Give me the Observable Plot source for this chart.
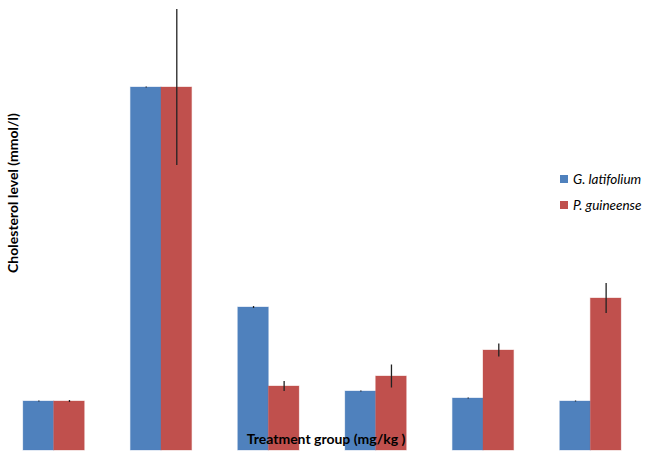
<!DOCTYPE html>
<html>
<head>
<meta charset="utf-8">
<script src="https://cdn.jsdelivr.net/npm/d3@7"></script>
<script src="https://cdn.jsdelivr.net/npm/@observablehq/plot@0.6"></script>
<style>
  html, body { margin: 0; padding: 0; background: #fff; }
  #wrap { position: relative; width: 650px; height: 457px; font-family: Lato, "Open Sans", sans-serif; }
  #ylab { position: absolute; left: 12px; top: 193px; transform: translate(-50%, -50%) rotate(-90deg); white-space: nowrap; font-weight: bold; font-size: 14px; color: #000; }
  #xlab { position: absolute; left: 326px; top: 438px; transform: translate(-50%, -50%); white-space: nowrap; font-weight: bold; font-size: 14px; color: #000; }
  #legend { position: absolute; left: 560px; top: 172px; font-size: 13.5px; font-style: italic; }
  #legend div { display: flex; align-items: center; height: 14px; margin-bottom: 12px; }
  #legend span.sw { display: inline-block; width: 8px; height: 8px; margin-right: 5px; }
</style>
</head>
<body>
<div id="wrap"></div>
<script>
const groups = ["Control", "Diabetic", "G1", "G2", "G3", "G4"];
const series = ["G. latifolium", "P. guineense"];
const colors = ["#4F81BD", "#C0504D"];
const latifolium = [0.49, 3.63, 1.43, 0.59, 0.52, 0.49];
const latifoliumErr = [0.005, 0.005, 0.01, 0.005, 0.005, 0.005];
const guineense = [0.49, 3.63, 0.64, 0.74, 1.00, 1.52];
const guineenseErr = [0.01, 0.78, 0.05, 0.115, 0.065, 0.15];
const xLabel = "Treatment group (mg/kg )";
const yLabel = "Cholesterol level (mmol/l)";

const data = [];
groups.forEach((g, i) => {
  data.push({group: g, series: series[0], value: latifolium[i], err: latifoliumErr[i]});
  data.push({group: g, series: series[1], value: guineense[i], err: guineenseErr[i]});
});

const chart = Plot.plot({
  width: 650,
  height: 457,
  marginLeft: 0,
  marginRight: 6,
  marginTop: 0,
  marginBottom: 7,
  fx: {domain: groups, paddingInner: 0.43, paddingOuter: 0.215, round: false, axis: null, label: null},
  x: {domain: series, padding: 0, round: false, axis: null},
  y: {domain: [0, 4.5], axis: null},
  color: {domain: series, range: colors},
  marks: [
    Plot.barY(data, {fx: "group", x: "series", y: "value", fill: "series", stroke: "series", strokeOpacity: 0.35, strokeWidth: 1}),
    Plot.ruleX(data, {fx: "group", x: "series", y1: d => d.value - d.err, y2: d => d.value + d.err, stroke: "#222", strokeWidth: 1.3})
  ]
});

const wrap = document.getElementById("wrap");
wrap.appendChild(chart);

const yl = document.createElement("div");
yl.id = "ylab"; yl.textContent = yLabel; wrap.appendChild(yl);
const xl = document.createElement("div");
xl.id = "xlab"; xl.textContent = xLabel; wrap.appendChild(xl);
const lg = document.createElement("div");
lg.id = "legend";
series.forEach((s, i) => {
  const row = document.createElement("div");
  const sw = document.createElement("span");
  sw.className = "sw"; sw.style.background = colors[i];
  row.appendChild(sw);
  row.appendChild(document.createTextNode(s));
  lg.appendChild(row);
});
wrap.appendChild(lg);
</script>
</body>
</html>
